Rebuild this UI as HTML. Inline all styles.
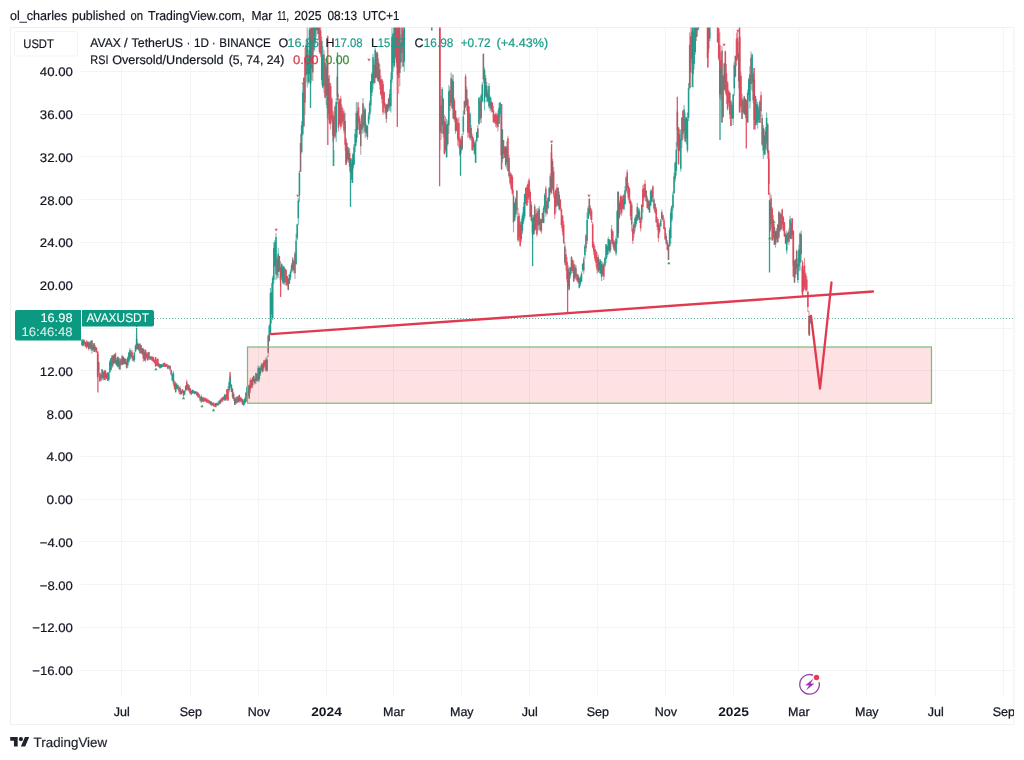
<!DOCTYPE html>
<html><head><meta charset="utf-8"><title>AVAX / TetherUS chart</title>
<style>html,body{margin:0;padding:0;background:#fff;}body{width:1024px;height:760px;overflow:hidden;font-family:"Liberation Sans",sans-serif;}svg{display:block;will-change:transform}text{text-rendering:geometricPrecision}</style>
</head><body>
<svg width="1024" height="760" viewBox="0 0 1024 760" font-family="Liberation Sans, sans-serif">
<defs><clipPath id="pane"><rect x="81" y="27.5" width="932.5" height="668.5"/></clipPath><filter id="bl" x="0" y="0" width="1024" height="760" filterUnits="userSpaceOnUse"><feGaussianBlur stdDeviation="0.35"/></filter><clipPath id="frame"><rect x="10" y="27" width="1004" height="698"/></clipPath></defs>
<rect width="1024" height="760" fill="#fff"/>
<rect x="10.5" y="27.5" width="1003.5" height="697" fill="none" stroke="#f0f0f3" stroke-width="1"/>
<path d="M121.5 28V696 M190.5 28V696 M258.5 28V696 M326.5 28V696 M393.5 28V696 M461.5 28V696 M529.5 28V696 M597.5 28V696 M665.5 28V696 M733.5 28V696 M798.5 28V696 M866.5 28V696 M935.5 28V696 M1003.5 28V696 M81 71.5H1013 M81 114.5H1013 M81 156.5H1013 M81 199.5H1013 M81 242.5H1013 M81 285.5H1013 M81 328.5H1013 M81 370.5H1013 M81 413.5H1013 M81 456.5H1013 M81 499.5H1013 M81 541.5H1013 M81 584.5H1013 M81 627.5H1013 M81 670.5H1013" stroke="#f3f4f6" stroke-width="1" fill="none"/>
<g clip-path="url(#pane)" fill="none" filter="url(#bl)">
<path d="M82.00 339.0V346.0 M83.11 338.7V346.2 M87.57 340.8V347.6 M90.92 340.3V350.8 M93.15 343.4V350.4 M102.07 369.1V380.6 M105.41 369.7V380.4 M107.64 372.1V381.1 M108.76 372.0V381.6 M109.87 360.0V373.0 M110.99 357.9V370.2 M116.56 357.8V365.5 M118.79 357.3V369.0 M123.25 355.9V364.4 M127.71 356.4V368.0 M128.83 352.4V363.0 M129.94 348.0V360.0 M134.40 351.5V362.3 M135.52 344.6V352.2 M138.86 342.7V351.2 M150.01 356.2V360.1 M160.05 364.4V368.7 M161.17 364.1V368.0 M162.28 364.2V367.2 M168.97 365.0V368.4 M172.32 372.8V381.1 M173.43 370.9V385.9 M175.66 381.6V392.4 M176.78 383.2V389.4 M184.58 390.1V395.2 M192.39 389.7V393.9 M194.62 391.0V394.3 M195.73 391.0V394.2 M201.31 394.5V403.1 M210.23 400.8V405.1 M216.92 402.6V405.8 M219.15 400.4V404.7 M224.72 394.5V401.0 M229.18 379.6V392.6 M230.30 374.0V388.0 M231.41 383.9V391.9 M235.87 396.7V404.2 M243.68 400.0V406.3 M244.79 397.4V404.4 M247.02 385.9V401.0 M248.14 385.1V396.7 M253.71 375.5V382.5 M255.94 372.5V383.7 M258.17 365.4V382.0 M259.29 366.6V381.6 M260.40 365.9V375.9 M261.52 363.0V371.6 M267.09 355.9V372.0 M269.32 324.1V341.8 M270.44 288.0V334.0 M271.55 283.1V323.5 M272.67 276.0V320.0 M273.78 242.0V284.0 M274.90 239.9V266.8 M276.01 233.0V280.0 M278.24 248.0V278.0 M281.59 263.3V279.8 M282.70 265.0V284.0 M283.82 266.2V284.4 M289.39 274.0V283.9 M290.51 269.5V280.0 M291.62 263.1V272.7 M296.08 233.7V265.0 M297.20 223.7V240.3 M298.31 198.0V225.0 M299.43 170.5V202.0 M301.66 121.0V153.5 M302.77 85.3V135.8 M306.12 41.0V82.4 M308.35 49.8V84.2 M309.46 24.1V82.8 M313.92 9.0V51.8 M315.04 12.7V44.8 M317.27 0.2V34.3 M321.73 36.8V85.3 M322.84 45.9V88.2 M327.30 60.0V118.0 M336.22 98.0V142.0 M347.37 142.7V161.7 M352.95 152.7V170.0 M354.06 144.0V165.0 M355.18 128.9V152.2 M356.29 102.0V146.0 M361.87 113.3V133.2 M364.10 106.3V131.8 M366.33 123.6V135.9 M368.56 112.6V125.0 M369.67 100.5V119.3 M370.79 81.0V112.6 M371.90 72.3V96.1 M373.02 53.7V89.5 M375.25 47.4V83.0 M387.51 103.5V112.3 M389.74 89.1V111.1 M390.86 72.6V112.6 M391.97 27.0V83.0 M393.09 32.8V71.7 M394.20 15.0V68.0 M400.89 33.9V68.4 M404.24 10.0V71.6 M410.93 -16.0V7.8 M416.50 -17.1V6.1 M423.19 -23.0V14.6 M425.42 -16.9V9.0 M432.11 -10.0V30.5 M434.34 -18.8V5.2 M437.69 -19.9V19.2 M442.15 87.0V133.7 M446.61 119.0V158.0 M448.84 85.0V133.7 M452.18 74.3V108.9 M463.33 110.5V134.7 M470.02 112.6V140.0 M474.48 141.0V154.9 M475.60 140.0V163.0 M476.71 131.6V142.6 M478.94 96.8V125.0 M481.17 93.7V123.0 M482.29 82.3V102.5 M484.52 67.4V110.5 M486.75 82.0V102.0 M487.86 90.0V102.6 M488.98 83.0V108.4 M490.09 95.4V110.9 M499.01 103.0V123.9 M500.13 102.0V117.0 M502.36 129.1V162.6 M505.70 146.0V167.0 M514.62 202.0V221.0 M515.74 197.3V217.6 M521.31 218.6V242.0 M522.43 212.6V233.7 M523.54 202.5V224.0 M524.66 193.7V219.0 M532.46 214.7V238.0 M533.58 215.1V234.6 M539.15 206.0V229.5 M543.61 205.7V223.2 M544.73 193.0V212.7 M548.07 197.4V209.2 M549.19 187.0V202.0 M559.22 191.6V210.5 M569.26 267.0V290.5 M570.37 266.7V278.3 M574.83 264.1V278.8 M579.29 278.0V288.4 M580.41 275.6V286.2 M581.52 271.6V282.0 M582.64 263.2V271.8 M584.87 244.0V259.0 M587.10 212.6V244.0 M588.21 206.0V219.3 M599.36 259.0V273.0 M600.48 259.0V273.7 M601.59 261.0V281.0 M604.94 256.8V267.3 M606.05 244.0V263.0 M607.17 245.4V257.7 M608.28 236.8V254.7 M609.40 239.0V253.2 M616.09 235.8V255.8 M617.20 210.1V244.2 M619.43 200.6V218.9 M623.89 193.7V210.5 M625.01 186.0V204.8 M635.04 216.8V231.6 M636.16 214.6V226.3 M638.39 207.5V219.7 M641.73 204.2V222.9 M649.54 200.0V212.6 M650.65 189.5V206.0 M651.77 188.9V202.5 M660.69 218.9V226.7 M669.61 227.4V246.6 M670.72 208.4V244.0 M671.84 205.4V221.9 M672.95 191.6V210.5 M674.07 172.6V193.7 M675.18 161.6V181.9 M676.30 142.0V175.8 M679.64 129.0V151.6 M680.76 129.5V171.6 M684.10 105.0V138.0 M686.33 117.1V144.5 M687.45 112.6V152.6 M688.56 83.0V121.0 M694.14 15.0V69.7 M695.25 10.0V54.7 M697.48 3.8V36.4 M698.60 0.0V30.0 M699.71 -20.0V18.0 M703.06 -19.0V17.5 M709.75 5.0V41.0 M710.86 -9.7V13.8 M711.98 -20.0V18.0 M715.32 -18.6V4.8 M723.13 74.7V118.0 M732.05 102.9V118.9 M733.16 93.7V125.0 M734.28 62.0V95.8 M745.43 98.3V118.0 M746.54 100.0V122.0 M747.66 89.5V123.0 M748.77 77.7V100.4 M749.89 66.0V108.4 M752.12 53.7V91.6 M756.58 99.0V125.1 M757.69 102.0V128.4 M758.81 107.0V122.9 M763.27 125.0V159.0 M764.38 129.0V155.5 M766.61 112.6V150.5 M775.53 230.5V247.4 M779.99 212.2V232.1 M786.68 230.5V253.7 M790.03 215.8V239.0 M797.83 258.0V283.0 M798.95 244.7V271.5 M800.06 232.6V270.5 M810.10 315.0V324.0" stroke="#169886" stroke-width="1.1" stroke-opacity="0.6"/>
<path d="M84.23 339.6V345.2 M86.46 340.0V349.0 M89.80 341.6V348.7 M95.38 345.2V352.2 M96.49 347.0V352.6 M97.61 351.5V378.0 M99.84 372.0V381.6 M104.30 370.0V380.0 M106.53 372.5V379.0 M113.22 355.2V366.3 M115.45 352.6V364.4 M121.02 358.6V365.4 M125.48 358.5V364.8 M132.17 349.8V361.0 M137.75 343.0V350.1 M141.09 345.0V353.5 M143.32 347.8V361.7 M145.55 349.4V362.3 M146.67 352.5V358.8 M147.78 352.1V360.7 M152.24 356.1V361.1 M153.36 356.8V362.0 M154.47 359.3V363.8 M155.59 356.9V366.6 M156.71 359.0V366.1 M157.82 358.5V366.4 M164.51 362.3V366.6 M165.63 363.4V367.1 M166.74 363.7V367.0 M170.09 365.5V370.9 M174.55 380.4V389.7 M179.01 385.9V393.2 M181.24 390.4V394.8 M182.35 388.9V393.3 M186.81 379.5V390.2 M189.04 384.8V392.2 M190.16 388.0V394.5 M197.96 392.3V397.6 M199.08 393.7V397.8 M203.54 396.8V402.3 M204.65 397.6V401.6 M205.77 397.7V402.0 M206.88 398.8V402.9 M208.00 398.8V403.2 M209.11 400.2V403.8 M212.46 402.5V405.6 M213.57 402.1V406.6 M214.69 403.4V406.7 M221.38 398.0V402.5 M222.49 397.1V401.4 M223.61 396.2V400.3 M225.84 394.5V400.4 M226.95 388.9V399.5 M228.07 385.9V401.0 M233.64 392.2V400.9 M238.10 396.3V402.5 M240.33 396.7V402.2 M241.45 397.4V402.7 M250.37 378.1V393.1 M251.48 379.4V387.9 M263.75 360.1V370.9 M264.86 359.7V367.0 M279.36 255.7V271.6 M286.05 269.5V286.0 M287.16 275.8V285.9 M293.85 260.5V273.3 M305.00 47.4V114.7 M311.69 18.4V80.0 M319.50 15.0V53.7 M320.61 26.5V56.7 M325.07 57.9V97.9 M329.53 75.1V124.6 M330.65 83.0V129.5 M331.76 97.3V121.8 M332.88 110.5V142.0 M333.99 111.4V139.6 M338.45 93.7V131.6 M340.68 95.8V129.5 M341.80 104.3V127.2 M342.91 108.0V125.0 M345.14 112.6V150.5 M349.60 148.0V171.6 M350.72 158.0V173.3 M358.52 102.0V129.5 M359.64 115.7V134.8 M377.48 51.6V81.0 M379.71 64.0V89.5 M380.82 75.5V95.5 M381.94 78.8V103.5 M383.05 81.0V114.7 M384.17 91.6V108.0 M385.28 102.6V114.5 M396.43 16.9V67.2 M398.66 15.0V93.7 M402.01 10.0V62.0 M406.47 -20.0V15.0 M407.58 -16.6V10.8 M408.70 -17.7V10.4 M413.16 -19.8V0.5 M414.27 -19.8V14.9 M417.62 -11.8V10.4 M418.73 -18.7V12.3 M420.96 -18.0V14.2 M426.54 -15.1V8.8 M428.77 -15.1V16.9 M431.00 -10.6V11.0 M436.57 -13.0V9.3 M439.92 19.0V150.5 M444.38 114.7V154.7 M449.95 87.0V111.0 M454.41 98.1V121.7 M456.64 117.1V131.6 M457.76 119.0V146.0 M458.87 117.0V148.0 M459.99 138.0V156.0 M461.10 136.4V153.4 M465.56 73.7V108.0 M467.79 98.0V138.0 M468.91 106.1V136.9 M471.14 124.7V140.7 M472.25 133.7V150.5 M473.37 136.9V150.4 M492.32 102.1V112.3 M493.44 106.0V123.0 M494.55 113.9V123.8 M495.67 112.6V127.0 M496.78 113.1V128.1 M504.59 146.1V158.0 M507.93 135.8V171.6 M510.16 171.6V185.0 M511.28 173.1V189.9 M512.39 174.7V195.8 M517.97 208.0V242.0 M519.08 213.0V241.1 M520.20 221.0V247.0 M525.77 187.0V204.0 M526.89 185.0V206.0 M528.00 181.5V203.0 M529.12 178.0V200.0 M530.23 189.5V216.8 M535.81 209.6V230.1 M536.92 208.4V236.8 M541.38 219.0V233.7 M545.84 186.0V216.8 M551.42 146.0V193.7 M553.65 167.0V198.0 M554.76 191.6V219.0 M556.99 184.0V206.0 M560.34 199.3V211.3 M561.45 208.0V228.0 M562.57 214.9V235.5 M563.68 221.0V244.0 M565.91 248.8V270.8 M567.03 257.0V282.0 M572.60 259.5V273.0 M573.72 261.0V282.0 M577.06 273.3V281.5 M590.44 205.5V219.4 M591.56 208.4V223.0 M592.67 222.0V248.4 M593.79 241.5V254.9 M594.90 246.0V261.0 M596.02 250.2V266.7 M597.13 252.6V273.7 M603.82 263.0V280.0 M611.63 225.0V244.0 M612.74 231.0V246.4 M613.86 240.0V250.5 M618.32 191.6V238.0 M620.55 194.7V214.7 M621.66 195.8V215.8 M622.78 195.8V209.2 M627.24 169.5V193.7 M628.35 182.9V199.8 M629.47 187.4V204.0 M630.58 199.5V219.9 M632.81 225.0V244.0 M640.62 216.8V231.6 M642.85 185.0V212.6 M643.96 183.7V200.8 M645.08 180.0V198.0 M647.31 195.8V208.4 M652.88 185.0V202.0 M655.11 203.0V213.6 M656.23 207.0V223.0 M657.34 217.0V230.2 M658.46 219.0V242.0 M662.92 214.5V221.4 M664.03 218.0V229.5 M665.15 227.0V240.0 M667.38 240.0V250.5 M678.53 127.0V165.0 M682.99 110.1V139.5 M690.79 27.0V87.4 M693.02 15.0V87.4 M700.83 -7.4V15.3 M705.29 -13.4V15.0 M706.40 -20.0V18.0 M707.52 10.0V67.4 M714.21 -7.5V16.7 M717.55 10.0V43.0 M718.67 27.6V60.5 M719.78 32.6V98.0 M720.90 52.1V99.9 M725.36 50.5V93.7 M726.47 64.0V104.0 M727.59 81.0V110.5 M728.70 89.7V106.4 M730.93 100.0V126.0 M736.51 32.6V66.0 M737.62 30.5V60.0 M739.85 27.0V112.6 M740.97 72.6V112.6 M743.20 98.0V113.1 M754.35 68.0V129.5 M761.04 91.6V116.8 M765.50 127.0V154.7 M768.84 150.5V194.7 M771.07 194.7V228.4 M772.19 207.0V241.0 M773.30 215.0V239.8 M777.76 224.0V243.0 M781.11 213.7V230.5 M782.22 208.4V228.4 M783.34 216.0V231.6 M784.45 222.0V236.8 M787.80 232.2V243.2 M792.26 218.0V239.0 M793.37 230.5V276.8 M795.60 258.7V277.8 M802.29 260.0V295.8 M803.41 266.1V290.9 M804.52 258.0V289.5 M805.64 272.6V291.6 M806.75 275.9V291.4 M807.87 290.4V312.0 M808.98 311.0V335.8" stroke="#de4259" stroke-width="1.1" stroke-opacity="0.6"/>
<path d="M85.34 341.6V346.7 M88.69 341.6V350.5 M92.03 339.7V353.7 M94.26 343.0V352.0 M98.72 361.8V375.2 M100.95 374.0V381.0 M103.18 371.4V380.2 M112.10 355.0V368.0 M114.33 354.0V363.7 M117.68 356.7V367.5 M119.91 358.0V369.8 M122.14 354.5V365.1 M124.37 357.9V364.2 M126.60 359.0V368.7 M131.06 350.1V357.3 M133.29 355.0V361.4 M136.63 336.0V349.4 M139.98 343.0V353.7 M142.21 348.0V354.9 M144.44 349.3V361.1 M148.90 351.7V359.8 M151.13 355.9V360.1 M158.94 362.8V367.6 M163.40 362.8V367.0 M167.86 364.5V369.2 M171.20 369.7V375.9 M177.89 384.4V389.7 M180.12 385.9V394.5 M183.47 390.2V396.7 M185.70 385.2V391.7 M187.93 384.3V390.5 M191.27 390.1V395.3 M193.50 390.2V393.6 M196.85 391.3V395.6 M200.19 396.7V401.6 M202.42 397.2V401.8 M211.34 401.0V406.3 M215.80 403.1V407.4 M218.03 402.5V405.6 M220.26 398.8V404.2 M232.53 388.0V398.8 M234.76 397.0V405.1 M236.99 395.9V403.4 M239.22 394.5V403.0 M242.56 398.9V405.1 M245.91 392.4V402.2 M249.25 384.7V398.9 M252.60 377.3V388.0 M254.83 377.6V384.6 M257.06 373.8V381.4 M262.63 363.1V372.5 M265.98 357.6V371.6 M268.21 334.4V356.9 M277.13 256.3V279.0 M280.47 261.0V286.0 M284.93 268.2V285.0 M288.28 278.0V290.5 M292.74 257.0V271.6 M294.97 251.6V279.0 M300.54 133.7V172.0 M303.89 77.1V127.2 M307.23 27.0V87.4 M310.58 20.0V85.0 M312.81 15.0V81.0 M316.15 0.0V37.0 M318.38 0.0V40.0 M323.96 50.1V92.7 M326.19 59.1V104.9 M328.42 75.8V119.8 M335.11 104.8V138.3 M337.34 75.0V104.0 M339.57 98.7V125.3 M344.03 109.8V133.6 M346.26 138.0V165.0 M348.49 147.1V162.9 M351.83 159.0V183.0 M357.41 102.5V137.5 M360.75 121.0V154.7 M362.98 98.0V133.7 M365.21 108.0V138.0 M367.44 125.0V140.0 M374.13 60.0V84.6 M376.36 52.0V77.9 M378.59 58.4V82.0 M386.40 104.0V123.0 M388.63 98.0V110.5 M395.32 18.5V59.0 M397.55 15.0V75.0 M399.78 15.5V86.2 M403.12 21.8V66.8 M405.35 0.0V27.0 M409.81 -16.9V12.9 M412.04 -17.9V12.4 M415.39 -19.9V7.9 M419.85 -17.4V10.5 M422.08 -16.0V5.7 M424.31 -17.9V14.6 M427.65 -15.1V9.3 M429.88 -20.0V15.0 M433.23 -20.0V15.0 M435.46 -12.6V11.7 M438.80 -20.0V20.0 M441.03 95.6V139.9 M443.26 97.6V137.8 M445.49 116.4V152.6 M447.72 120.4V145.9 M451.07 72.6V106.0 M453.30 74.7V119.0 M455.53 110.5V133.7 M462.22 133.7V150.5 M464.45 100.8V114.4 M466.68 86.2V111.2 M477.83 125.0V138.0 M480.06 96.8V123.0 M483.40 53.7V83.0 M485.63 74.9V97.3 M491.21 98.0V112.6 M497.90 110.5V131.6 M501.24 104.0V169.5 M503.47 140.0V159.0 M506.82 140.9V168.8 M509.05 154.7V178.0 M513.51 189.5V232.6 M516.85 190.5V214.7 M531.35 201.2V221.8 M534.69 204.0V233.7 M538.04 208.1V231.0 M540.27 218.0V231.7 M542.50 212.6V223.0 M546.96 200.0V214.7 M550.30 173.5V195.3 M552.53 158.8V190.6 M555.88 188.8V212.6 M558.11 187.1V206.4 M564.80 242.0V265.0 M568.14 265.0V290.0 M571.49 256.0V273.7 M575.95 265.0V280.0 M578.18 274.3V283.4 M583.75 256.8V273.7 M585.98 234.0V251.9 M589.33 198.0V214.7 M598.25 254.8V272.6 M602.71 261.7V276.4 M610.51 240.0V252.6 M614.97 240.3V251.8 M626.12 175.7V192.5 M631.70 202.0V231.6 M633.93 221.7V237.5 M637.27 203.0V221.0 M639.50 208.4V223.0 M646.19 190.3V202.5 M648.42 199.5V210.0 M654.00 198.0V210.5 M659.57 223.0V233.7 M661.80 209.5V221.0 M666.26 233.3V244.7 M668.49 244.0V260.0 M677.41 110.0V150.5 M681.87 117.0V148.0 M685.22 112.6V142.0 M689.68 32.6V89.5 M691.91 26.0V63.6 M696.37 5.0V41.0 M701.94 -19.9V17.5 M704.17 -20.0V16.4 M708.63 7.2V52.9 M713.09 -19.3V15.7 M716.44 -20.0V18.0 M722.01 46.0V123.0 M724.24 62.7V89.8 M729.82 91.6V119.0 M735.39 55.5V77.4 M738.74 41.2V88.6 M742.08 93.7V119.0 M744.31 95.8V114.7 M751.00 51.6V89.5 M753.23 72.5V103.2 M755.46 95.8V129.5 M759.92 100.0V123.0 M762.15 114.7V146.0 M767.73 123.0V159.0 M769.96 192.6V232.0 M774.42 224.0V245.0 M776.65 227.9V242.5 M778.88 210.5V239.0 M785.57 232.5V244.1 M788.91 228.4V245.0 M791.14 218.1V239.4 M794.49 260.0V283.0 M796.72 249.5V274.7 M801.18 230.5V262.0" stroke="#86676a" stroke-width="1.1" stroke-opacity="0.6"/>
<path d="M82.00 340.3V344.9 M83.11 340.2V345.8 M87.57 342.0V347.1 M90.92 341.2V348.7 M93.15 345.1V350.1 M102.07 369.3V377.9 M105.41 370.9V377.8 M107.64 372.9V380.4 M108.76 372.5V379.8 M109.87 361.8V371.9 M110.99 358.1V369.9 M116.56 359.7V365.3 M118.79 358.4V366.5 M123.25 357.1V364.3 M127.71 357.6V365.6 M128.83 352.5V361.5 M129.94 349.9V358.9 M134.40 352.6V360.0 M135.52 345.6V351.5 M138.86 344.1V350.2 M150.01 356.7V359.5 M160.05 364.5V368.0 M161.17 364.1V367.4 M162.28 364.9V366.7 M168.97 365.7V367.8 M172.32 374.4V380.4 M173.43 373.3V383.3 M175.66 383.3V392.2 M176.78 384.6V388.8 M184.58 391.2V394.4 M192.39 389.8V393.0 M194.62 391.6V393.7 M195.73 391.6V393.6 M201.31 396.2V401.5 M210.23 401.3V404.0 M216.92 403.2V405.1 M219.15 400.7V403.7 M224.72 394.6V399.7 M229.18 382.2V389.9 M230.30 376.6V386.5 M231.41 384.9V391.8 M235.87 398.5V403.2 M243.68 401.0V405.1 M244.79 398.5V403.3 M247.02 387.3V397.9 M248.14 386.4V395.7 M253.71 375.9V381.2 M255.94 373.2V381.0 M258.17 367.8V380.2 M259.29 368.0V379.2 M260.40 368.2V373.9 M261.52 364.5V369.8 M267.09 359.6V370.6 M269.32 326.1V340.9 M270.44 293.3V333.0 M271.55 292.1V314.5 M272.67 278.1V317.9 M273.78 247.9V279.8 M274.90 242.4V266.1 M276.01 237.1V273.9 M278.24 253.8V271.9 M281.59 264.3V277.5 M282.70 266.9V281.9 M283.82 266.4V283.2 M289.39 274.5V283.8 M290.51 271.8V277.7 M291.62 265.1V271.2 M296.08 240.8V264.1 M297.20 224.6V238.3 M298.31 200.5V218.3 M299.43 172.8V194.9 M301.66 125.3V152.0 M302.77 92.5V134.1 M306.12 45.2V75.0 M308.35 57.3V81.9 M309.46 29.6V74.0 M313.92 11.4V49.9 M315.04 18.3V43.2 M317.27 4.4V30.0 M321.73 40.9V80.0 M322.84 54.8V87.6 M327.30 63.9V108.2 M336.22 101.9V132.5 M347.37 146.7V159.3 M352.95 154.2V167.4 M354.06 146.8V164.5 M355.18 134.0V146.6 M356.29 113.0V142.2 M361.87 114.9V129.8 M364.10 109.7V125.5 M366.33 125.5V133.4 M368.56 115.4V123.2 M369.67 103.2V114.8 M370.79 81.3V105.2 M371.90 74.1V92.5 M373.02 57.2V83.1 M375.25 50.0V78.0 M387.51 104.6V111.7 M389.74 94.0V106.4 M390.86 79.4V106.0 M391.97 36.8V79.5 M393.09 33.9V62.9 M394.20 15.5V65.9 M400.89 41.9V62.5 M404.24 24.9V61.8 M410.93 -15.6V6.2 M416.50 -16.9V1.6 M423.19 -21.2V7.8 M425.42 -12.6V3.6 M432.11 -4.6V24.8 M434.34 -17.3V2.3 M437.69 -11.8V15.4 M442.15 89.0V125.0 M446.61 124.7V156.9 M448.84 91.6V125.3 M452.18 79.6V108.2 M463.33 116.5V131.8 M470.02 113.7V138.2 M474.48 143.2V153.5 M475.60 142.4V162.7 M476.71 132.3V141.3 M478.94 97.9V124.0 M481.17 95.6V117.8 M482.29 84.6V101.1 M484.52 69.9V102.3 M486.75 85.7V97.4 M487.86 93.1V101.0 M488.98 85.9V106.3 M490.09 97.0V107.6 M499.01 108.1V123.8 M500.13 102.6V114.4 M502.36 129.5V158.4 M505.70 146.6V165.1 M514.62 202.9V220.4 M515.74 199.0V214.3 M521.31 221.7V239.2 M522.43 215.4V230.9 M523.54 206.9V221.5 M524.66 194.0V216.6 M532.46 218.4V233.0 M533.58 216.9V234.4 M539.15 208.7V224.6 M543.61 208.1V222.9 M544.73 195.0V209.8 M548.07 197.5V208.3 M549.19 188.0V201.2 M559.22 194.7V209.3 M569.26 272.0V289.2 M570.37 267.7V275.6 M574.83 266.5V278.2 M579.29 278.3V287.8 M580.41 276.9V284.1 M581.52 273.6V281.6 M582.64 263.8V269.9 M584.87 246.2V255.3 M587.10 220.0V240.8 M588.21 208.3V218.8 M599.36 261.8V270.2 M600.48 260.5V273.4 M601.59 264.0V276.8 M604.94 257.9V265.6 M606.05 244.2V259.1 M607.17 246.1V255.0 M608.28 239.0V250.4 M609.40 239.6V251.3 M616.09 238.6V253.6 M617.20 211.2V236.1 M619.43 203.1V217.0 M623.89 195.0V208.9 M625.01 190.4V203.9 M635.04 218.3V228.1 M636.16 215.2V223.8 M638.39 209.5V217.9 M641.73 204.8V219.6 M649.54 201.7V212.5 M650.65 191.2V205.7 M651.77 190.9V201.7 M660.69 220.8V226.1 M669.61 230.0V246.2 M670.72 212.7V238.3 M671.84 205.9V219.5 M672.95 194.4V207.5 M674.07 176.4V193.4 M675.18 162.8V178.6 M676.30 149.7V170.7 M679.64 134.2V150.4 M680.76 139.2V168.8 M684.10 109.6V131.2 M686.33 117.3V138.8 M687.45 119.1V150.5 M688.56 88.2V117.7 M694.14 26.6V63.8 M695.25 17.9V51.9 M697.48 11.9V30.2 M698.60 0.2V28.3 M699.71 -12.6V9.5 M703.06 -18.2V15.6 M709.75 11.2V38.5 M710.86 -7.3V9.7 M711.98 -11.1V14.7 M715.32 -16.3V1.0 M723.13 75.7V116.7 M732.05 105.1V118.0 M733.16 94.8V118.7 M734.28 65.1V88.2 M745.43 99.1V115.1 M746.54 103.6V117.3 M747.66 92.9V122.6 M748.77 79.3V94.9 M749.89 74.6V101.5 M752.12 54.4V83.1 M756.58 104.1V123.5 M757.69 104.7V122.1 M758.81 109.6V119.9 M763.27 128.1V150.8 M764.38 135.4V154.2 M766.61 117.7V143.6 M775.53 231.5V244.0 M779.99 213.3V230.6 M786.68 234.7V250.6 M790.03 219.4V238.4 M797.83 263.7V280.0 M798.95 249.5V266.6 M800.06 233.6V262.8 M810.10 316.2V323.2" stroke="#169886" stroke-width="1.55" stroke-opacity="0.9"/>
<path d="M84.23 340.5V344.2 M86.46 342.2V347.5 M89.80 342.8V348.3 M95.38 347.0V350.6 M96.49 348.0V352.6 M97.61 353.7V376.9 M99.84 373.0V381.5 M104.30 370.7V380.0 M106.53 374.0V378.7 M113.22 355.6V364.0 M115.45 353.6V363.2 M121.02 358.9V365.0 M125.48 359.0V363.9 M132.17 352.4V358.3 M137.75 344.1V349.1 M141.09 345.3V353.2 M143.32 349.1V358.4 M145.55 349.9V359.8 M146.67 352.8V357.4 M147.78 354.1V360.3 M152.24 357.1V360.7 M153.36 357.3V361.7 M154.47 360.1V362.7 M155.59 356.9V366.5 M156.71 360.6V365.9 M157.82 358.7V365.7 M164.51 363.3V366.4 M165.63 364.1V366.9 M166.74 364.3V366.4 M170.09 366.1V369.8 M174.55 382.4V388.7 M179.01 387.4V391.5 M181.24 391.1V393.9 M182.35 389.2V392.9 M186.81 381.7V389.7 M189.04 385.4V390.7 M190.16 388.3V393.4 M197.96 392.7V396.7 M199.08 394.2V397.7 M203.54 397.7V401.6 M204.65 398.5V401.2 M205.77 397.9V401.2 M206.88 399.5V402.3 M208.00 399.7V402.5 M209.11 400.6V403.2 M212.46 403.1V405.2 M213.57 403.1V406.3 M214.69 404.2V406.4 M221.38 398.4V401.5 M222.49 397.3V401.4 M223.61 396.7V399.7 M225.84 394.5V400.4 M226.95 389.3V398.9 M228.07 388.9V400.4 M233.64 393.7V399.1 M238.10 396.7V401.9 M240.33 397.6V401.1 M241.45 398.3V401.7 M250.37 380.3V389.6 M251.48 379.9V387.6 M263.75 361.7V368.5 M264.86 360.8V365.5 M279.36 256.1V271.4 M286.05 270.1V282.9 M287.16 276.0V285.1 M293.85 261.0V270.5 M305.00 57.7V102.8 M311.69 24.3V68.5 M319.50 22.2V52.1 M320.61 30.4V53.7 M325.07 62.9V97.7 M329.53 83.1V123.1 M330.65 86.1V124.1 M331.76 99.1V119.3 M332.88 114.8V135.4 M333.99 116.5V136.4 M338.45 102.0V127.4 M340.68 98.6V126.5 M341.80 107.2V122.9 M342.91 111.0V121.1 M345.14 120.9V144.7 M349.60 153.0V166.7 M350.72 158.0V173.1 M358.52 107.6V122.7 M359.64 118.1V133.9 M377.48 53.7V79.3 M379.71 69.3V84.4 M380.82 80.3V94.4 M381.94 79.6V99.1 M383.05 84.1V112.6 M384.17 92.1V105.9 M385.28 104.5V112.8 M396.43 25.5V62.8 M398.66 17.2V78.1 M402.01 10.7V52.9 M406.47 -14.1V12.9 M407.58 -14.2V8.7 M408.70 -13.9V5.1 M413.16 -16.0V0.1 M414.27 -15.6V11.1 M417.62 -6.7V9.4 M418.73 -12.3V9.8 M420.96 -10.4V10.2 M426.54 -13.0V7.7 M428.77 -10.3V14.5 M431.00 -8.2V10.5 M436.57 -9.9V5.3 M439.92 19.5V131.0 M444.38 120.7V153.7 M449.95 90.0V105.8 M454.41 100.4V119.6 M456.64 118.1V130.6 M457.76 122.6V139.5 M458.87 123.0V141.2 M459.99 139.6V154.7 M461.10 139.7V150.3 M465.56 76.3V106.6 M467.79 99.8V132.2 M468.91 106.6V133.2 M471.14 128.1V138.1 M472.25 136.2V150.2 M473.37 138.7V147.5 M492.32 102.7V111.8 M493.44 110.2V122.1 M494.55 114.6V121.9 M495.67 114.3V123.8 M496.78 115.3V124.8 M504.59 147.3V157.4 M507.93 138.2V171.0 M510.16 173.4V183.2 M511.28 174.8V188.6 M512.39 176.7V193.6 M517.97 216.5V240.0 M519.08 215.7V237.4 M520.20 224.5V245.5 M525.77 188.1V203.6 M526.89 187.4V205.5 M528.00 184.1V198.7 M529.12 180.0V197.1 M530.23 192.1V216.7 M535.81 214.3V229.1 M536.92 213.1V234.5 M541.38 219.1V231.2 M545.84 188.6V212.8 M551.42 152.6V193.1 M553.65 171.6V194.5 M554.76 194.6V214.6 M556.99 187.7V204.4 M560.34 199.4V208.8 M561.45 209.6V225.2 M562.57 215.7V231.4 M563.68 224.7V242.7 M565.91 254.2V265.6 M567.03 261.7V278.9 M572.60 259.8V271.1 M573.72 263.7V281.5 M577.06 274.3V280.4 M590.44 208.2V216.2 M591.56 210.7V219.9 M592.67 224.3V247.3 M593.79 244.2V251.8 M594.90 249.0V258.8 M596.02 251.4V262.7 M597.13 257.7V269.5 M603.82 264.5V276.4 M611.63 229.1V241.6 M612.74 231.3V244.0 M613.86 241.7V248.8 M618.32 192.1V233.5 M620.55 196.6V209.9 M621.66 196.6V212.9 M622.78 198.8V208.6 M627.24 172.2V188.6 M628.35 186.1V197.8 M629.47 188.5V202.5 M630.58 200.8V216.0 M632.81 228.6V240.8 M640.62 218.7V228.3 M642.85 189.2V206.9 M643.96 187.9V197.4 M645.08 183.8V196.5 M647.31 198.4V208.1 M652.88 186.4V197.8 M655.11 204.1V212.8 M656.23 208.8V222.2 M657.34 219.4V227.0 M658.46 223.2V237.9 M662.92 215.3V219.7 M664.03 220.4V229.1 M665.15 227.7V239.2 M667.38 242.2V250.1 M678.53 127.4V164.1 M682.99 110.8V133.7 M690.79 36.2V72.6 M693.02 31.6V74.1 M700.83 -3.8V13.2 M705.29 -8.1V9.6 M706.40 -13.4V16.0 M707.52 18.5V58.0 M714.21 -3.5V13.1 M717.55 16.0V41.9 M718.67 28.5V58.4 M719.78 45.1V94.3 M720.90 59.7V94.2 M725.36 51.3V91.3 M726.47 73.6V95.4 M727.59 82.8V109.2 M728.70 91.6V103.3 M730.93 101.2V125.9 M736.51 38.9V61.1 M737.62 37.5V58.3 M739.85 36.8V107.8 M740.97 76.0V105.9 M743.20 100.7V112.6 M754.35 79.4V119.9 M761.04 95.3V110.9 M765.50 131.2V148.8 M768.84 158.4V183.8 M771.07 198.2V224.4 M772.19 208.4V240.2 M773.30 219.5V237.7 M777.76 224.7V242.1 M781.11 214.6V229.2 M782.22 209.5V224.5 M783.34 217.2V230.4 M784.45 222.3V236.6 M787.80 232.9V241.4 M792.26 218.4V235.1 M793.37 231.6V265.6 M795.60 259.5V274.1 M802.29 266.7V292.7 M803.41 269.7V290.8 M804.52 265.5V286.9 M805.64 274.3V289.8 M806.75 279.4V289.8 M807.87 291.7V307.0 M808.98 316.0V334.2" stroke="#de4259" stroke-width="1.55" stroke-opacity="0.9"/>
<path d="M85.34 342.1V346.4 M88.69 342.2V349.0 M92.03 340.7V350.4 M94.26 343.3V351.9 M98.72 362.2V372.0 M100.95 374.7V379.4 M103.18 372.0V378.1 M112.10 355.8V366.6 M114.33 354.5V363.1 M117.68 356.8V366.7 M119.91 360.8V369.5 M122.14 356.3V364.7 M124.37 358.0V364.0 M126.60 361.4V367.8 M131.06 351.8V357.1 M133.29 356.4V360.4 M136.63 339.0V349.3 M139.98 344.3V353.1 M142.21 348.0V353.8 M144.44 351.7V360.5 M148.90 352.1V357.9 M151.13 356.5V359.2 M158.94 363.6V367.1 M163.40 363.3V366.7 M167.86 365.4V368.7 M171.20 370.0V374.5 M177.89 385.2V388.8 M180.12 387.9V394.3 M183.47 390.7V395.5 M185.70 385.8V390.6 M187.93 384.3V389.7 M191.27 391.0V394.3 M193.50 390.6V393.3 M196.85 391.9V395.5 M200.19 396.8V400.4 M202.42 397.5V401.4 M211.34 402.0V405.1 M215.80 403.1V407.0 M218.03 402.7V405.5 M220.26 399.9V403.6 M232.53 389.3V397.3 M234.76 398.3V405.0 M236.99 397.1V402.8 M239.22 395.1V401.2 M242.56 399.0V404.6 M245.91 392.6V401.8 M249.25 384.8V398.5 M252.60 377.6V385.4 M254.83 379.1V383.3 M257.06 374.0V380.8 M262.63 364.5V371.8 M265.98 359.6V370.6 M268.21 335.5V352.7 M277.13 259.1V275.8 M280.47 266.9V280.3 M284.93 268.4V281.7 M288.28 278.5V289.8 M292.74 258.7V269.3 M294.97 253.5V273.2 M300.54 143.1V171.8 M303.89 78.0V126.2 M307.23 39.7V74.3 M310.58 28.4V83.0 M312.81 23.2V72.5 M316.15 4.8V30.5 M318.38 1.4V34.1 M323.96 54.6V86.0 M326.19 66.4V95.6 M328.42 78.5V114.0 M335.11 106.8V136.4 M337.34 77.1V96.8 M339.57 99.5V123.8 M344.03 113.3V130.6 M346.26 142.9V163.0 M348.49 149.4V160.6 M351.83 163.6V179.8 M357.41 111.1V130.3 M360.75 124.0V146.3 M362.98 103.2V127.7 M365.21 109.2V132.3 M367.44 126.2V137.3 M374.13 64.8V83.1 M376.36 52.4V77.1 M378.59 62.6V81.4 M386.40 104.8V119.0 M388.63 98.4V108.3 M395.32 25.0V57.2 M397.55 19.3V74.4 M399.78 22.4V73.0 M403.12 30.4V66.4 M405.35 2.4V24.2 M409.81 -11.2V6.7 M412.04 -15.4V8.9 M415.39 -15.5V3.5 M419.85 -15.7V10.3 M422.08 -15.6V2.0 M424.31 -14.4V12.3 M427.65 -9.6V4.0 M429.88 -14.3V12.4 M433.23 -12.2V10.2 M435.46 -9.5V8.1 M438.80 -12.3V18.6 M441.03 105.5V133.1 M443.26 98.9V134.0 M445.49 122.6V150.3 M447.72 123.9V144.0 M451.07 78.3V102.7 M453.30 81.2V118.5 M455.53 110.6V131.0 M462.22 136.0V148.8 M464.45 101.3V114.4 M466.68 89.6V105.3 M477.83 128.2V137.8 M480.06 100.7V119.4 M483.40 53.8V79.5 M485.63 78.0V96.3 M491.21 101.4V109.2 M497.90 114.6V127.0 M501.24 115.7V155.1 M503.47 140.1V154.3 M506.82 147.6V162.6 M509.05 157.9V175.9 M513.51 196.0V222.6 M516.85 190.5V210.2 M531.35 204.9V220.4 M534.69 206.2V230.7 M538.04 211.0V225.8 M540.27 219.7V229.9 M542.50 212.9V222.4 M546.96 201.0V213.5 M550.30 176.2V192.1 M552.53 161.3V188.4 M555.88 189.9V207.1 M558.11 188.1V205.9 M564.80 246.2V262.5 M568.14 268.7V286.6 M571.49 257.1V270.4 M575.95 268.2V276.7 M578.18 275.5V282.5 M583.75 259.3V270.4 M585.98 235.5V248.2 M589.33 198.9V213.3 M598.25 256.9V271.6 M602.71 264.7V274.8 M610.51 241.4V250.1 M614.97 241.7V250.8 M626.12 177.4V190.9 M631.70 204.6V224.6 M633.93 224.3V233.7 M637.27 207.1V220.4 M639.50 211.5V220.1 M646.19 190.5V201.1 M648.42 201.0V209.4 M654.00 199.4V208.4 M659.57 225.3V231.8 M661.80 212.1V218.7 M666.26 236.1V243.4 M668.49 245.5V260.0 M677.41 112.3V146.5 M681.87 117.8V140.5 M685.22 118.5V141.4 M689.68 44.7V88.1 M691.91 31.6V58.7 M696.37 5.9V37.0 M701.94 -13.8V12.5 M704.17 -13.5V7.4 M708.63 7.4V48.8 M713.09 -12.3V9.9 M716.44 -19.9V9.9 M722.01 50.5V122.4 M724.24 63.5V89.4 M729.82 93.0V114.5 M735.39 55.9V76.2 M738.74 53.0V81.2 M742.08 98.9V119.0 M744.31 96.5V114.1 M751.00 57.8V83.9 M753.23 74.3V100.3 M755.46 95.9V125.5 M759.92 101.5V122.8 M762.15 118.1V144.6 M767.73 124.6V152.7 M769.96 202.2V230.5 M774.42 226.9V244.7 M776.65 230.8V239.6 M778.88 212.2V237.2 M785.57 233.9V243.5 M788.91 231.4V241.8 M791.14 222.9V238.7 M794.49 260.8V282.4 M796.72 251.0V268.6 M801.18 234.2V254.2" stroke="#86676a" stroke-width="1.55" stroke-opacity="0.9"/>
<path d="M136.60 328.0V345.0 M310.50 40.0V108.0 M333.30 120.0V166.0 M337.50 52.6V100.0 M350.50 160.0V207.0 M352.60 160.0V183.0 M460.50 145.0V175.8 M532.60 225.0V266.0 M617.90 191.6V238.0 M720.00 68.0V140.0 M769.50 200.0V272.6 M809.50 315.8V335.8 M692.50 27.0V87.0 M333.70 150.0V166.0" stroke="#169886" stroke-width="1.3" stroke-opacity="0.9"/>
<path d="M97.90 351.5V392.4 M230.00 372.0V380.0 M280.60 270.0V297.0 M327.80 35.8V145.0 M397.30 27.0V127.0 M431.60 27.0V30.5 M439.60 27.0V186.3 M501.70 104.0V169.5 M551.60 144.0V175.0 M567.60 270.0V313.7 M677.30 96.8V130.0 M739.40 27.0V112.6 M746.30 100.0V148.4 M754.00 68.0V129.5 M768.60 150.5V194.7 M793.30 230.5V276.8 M802.70 262.0V295.8 M708.00 27.0V67.4 M345.90 140.0V165.0" stroke="#de4259" stroke-width="1.3" stroke-opacity="0.9"/>
</g>
<path d="M134.9 324.7H138.3L136.6 327.4Z" fill="#e0485c" opacity="0.9"/>
<path d="M274.5 228.7H277.9L276.2 231.4Z" fill="#e0485c" opacity="0.9"/>
<path d="M296.2 194.7H299.6L297.9 197.4Z" fill="#e0485c" opacity="0.9"/>
<path d="M549.9 140.7H553.3L551.6 143.4Z" fill="#e0485c" opacity="0.9"/>
<path d="M587.3 194.7H590.7L589.0 197.4Z" fill="#e0485c" opacity="0.9"/>
<path d="M301.3 82.7H304.7L303.0 85.4Z" fill="#e0485c" opacity="0.9"/>
<path d="M367.3 58.7H370.7L369.0 61.4Z" fill="#e0485c" opacity="0.9"/>
<path d="M722.3 43.7H725.7L724.0 46.4Z" fill="#e0485c" opacity="0.9"/>
<path d="M736.3 29.7H739.7L738.0 32.4Z" fill="#e0485c" opacity="0.9"/>
<path d="M154.2 370.2H157.6L155.9 367.5Z" fill="#3c9a4c" opacity="0.9"/>
<path d="M174.3 386.2H177.7L176.0 383.5Z" fill="#3c9a4c" opacity="0.9"/>
<path d="M181.8 399.2H185.2L183.5 396.5Z" fill="#3c9a4c" opacity="0.9"/>
<path d="M200.3 407.2H203.7L202.0 404.5Z" fill="#3c9a4c" opacity="0.9"/>
<path d="M211.8 411.2H215.2L213.5 408.5Z" fill="#3c9a4c" opacity="0.9"/>
<path d="M667.1 264.2H670.5L668.8 261.5Z" fill="#3c9a4c" opacity="0.9"/>
<path d="M772.3 223.2H775.7L774.0 220.5Z" fill="#3c9a4c" opacity="0.9"/>
<path d="M768.1 239.2H771.5L769.8 236.5Z" fill="#3c9a4c" opacity="0.9"/>
<path d="M622.3 195.7H625.7L624.0 198.4Z" fill="#e0485c" opacity="0.9"/>
<path d="M154 318.5H1013" stroke="#4fa397" stroke-opacity="0.85" stroke-width="1.1" stroke-dasharray="1.1 1.9" fill="none"/>
<rect x="247.5" y="347" width="684" height="56.2" fill="#f23645" fill-opacity="0.15" stroke="#7aba7a" stroke-width="1.2"/>
<path d="M271 334.2L873 291.5" stroke="#e13a50" stroke-width="2.3" stroke-linecap="round" fill="none"/>
<path d="M811 316L820 388.5L831.5 282.5" stroke="#e13a50" stroke-width="2.3" stroke-linecap="round" stroke-linejoin="round" fill="none"/>
<text x="10" y="20.3" font-size="13" fill="#131722" stroke="#131722" stroke-width="0.2" textLength="57.3" lengthAdjust="spacingAndGlyphs">ol_charles</text>
<text x="72" y="20.3" font-size="13" fill="#131722" stroke="#131722" stroke-width="0.2" textLength="53.3" lengthAdjust="spacingAndGlyphs">published</text>
<text x="130.5" y="20.3" font-size="13" fill="#131722" stroke="#131722" stroke-width="0.2" textLength="12.5" lengthAdjust="spacingAndGlyphs">on</text>
<text x="148.1" y="20.3" font-size="13" fill="#131722" stroke="#131722" stroke-width="0.2" textLength="96.9" lengthAdjust="spacingAndGlyphs">TradingView.com,</text>
<text x="251.4" y="20.3" font-size="13" fill="#131722" stroke="#131722" stroke-width="0.2" textLength="20.9" lengthAdjust="spacingAndGlyphs">Mar</text>
<text x="277.2" y="20.3" font-size="13" fill="#131722" stroke="#131722" stroke-width="0.2" textLength="11.8" lengthAdjust="spacingAndGlyphs">11,</text>
<text x="294.3" y="20.3" font-size="13" fill="#131722" stroke="#131722" stroke-width="0.2" textLength="27.2" lengthAdjust="spacingAndGlyphs">2025</text>
<text x="327.5" y="20.3" font-size="13" fill="#131722" stroke="#131722" stroke-width="0.2" textLength="29.7" lengthAdjust="spacingAndGlyphs">08:13</text>
<text x="362.8" y="20.3" font-size="13" fill="#131722" stroke="#131722" stroke-width="0.2" textLength="36.6" lengthAdjust="spacingAndGlyphs">UTC+1</text>
<text x="72.9" y="76.4" font-size="12.5" fill="#131722" stroke="#131722" stroke-width="0.2" text-anchor="end" textLength="33.1" lengthAdjust="spacingAndGlyphs">40.00</text>
<text x="72.9" y="119.2" font-size="12.5" fill="#131722" stroke="#131722" stroke-width="0.2" text-anchor="end" textLength="33.1" lengthAdjust="spacingAndGlyphs">36.00</text>
<text x="72.9" y="161.9" font-size="12.5" fill="#131722" stroke="#131722" stroke-width="0.2" text-anchor="end" textLength="33.1" lengthAdjust="spacingAndGlyphs">32.00</text>
<text x="72.9" y="204.7" font-size="12.5" fill="#131722" stroke="#131722" stroke-width="0.2" text-anchor="end" textLength="33.1" lengthAdjust="spacingAndGlyphs">28.00</text>
<text x="72.9" y="247.4" font-size="12.5" fill="#131722" stroke="#131722" stroke-width="0.2" text-anchor="end" textLength="33.1" lengthAdjust="spacingAndGlyphs">24.00</text>
<text x="72.9" y="290.2" font-size="12.5" fill="#131722" stroke="#131722" stroke-width="0.2" text-anchor="end" textLength="33.1" lengthAdjust="spacingAndGlyphs">20.00</text>
<text x="72.9" y="375.7" font-size="12.5" fill="#131722" stroke="#131722" stroke-width="0.2" text-anchor="end" textLength="33.1" lengthAdjust="spacingAndGlyphs">12.00</text>
<text x="72.9" y="418.5" font-size="12.5" fill="#131722" stroke="#131722" stroke-width="0.2" text-anchor="end" textLength="26.4" lengthAdjust="spacingAndGlyphs">8.00</text>
<text x="72.9" y="461.2" font-size="12.5" fill="#131722" stroke="#131722" stroke-width="0.2" text-anchor="end" textLength="26.4" lengthAdjust="spacingAndGlyphs">4.00</text>
<text x="72.9" y="504.0" font-size="12.5" fill="#131722" stroke="#131722" stroke-width="0.2" text-anchor="end" textLength="26.4" lengthAdjust="spacingAndGlyphs">0.00</text>
<text x="72.9" y="546.8" font-size="12.5" fill="#131722" stroke="#131722" stroke-width="0.2" text-anchor="end" textLength="33.1" lengthAdjust="spacingAndGlyphs">−4.00</text>
<text x="72.9" y="589.5" font-size="12.5" fill="#131722" stroke="#131722" stroke-width="0.2" text-anchor="end" textLength="33.1" lengthAdjust="spacingAndGlyphs">−8.00</text>
<text x="72.9" y="632.3" font-size="12.5" fill="#131722" stroke="#131722" stroke-width="0.2" text-anchor="end" textLength="40.7" lengthAdjust="spacingAndGlyphs">−12.00</text>
<text x="72.9" y="675.0" font-size="12.5" fill="#131722" stroke="#131722" stroke-width="0.2" text-anchor="end" textLength="40.7" lengthAdjust="spacingAndGlyphs">−16.00</text>
<rect x="14.5" y="31.5" width="63" height="24.5" rx="2" fill="#fff" stroke="#f3f3f6" stroke-width="1"/>
<text x="23.3" y="47.6" font-size="12.5" fill="#131722" stroke="#131722" stroke-width="0.2" textLength="30.5" lengthAdjust="spacingAndGlyphs">USDT</text>
<text x="90.3" y="46.8" font-size="12.5" fill="#131722" stroke="#131722" stroke-width="0.2" textLength="30.5" lengthAdjust="spacingAndGlyphs">AVAX</text>
<text x="124" y="46.8" font-size="12.5" fill="#131722" stroke="#131722" stroke-width="0.2" textLength="3.7" lengthAdjust="spacingAndGlyphs">/</text>
<text x="131.6" y="46.8" font-size="12.5" fill="#131722" stroke="#131722" stroke-width="0.2" textLength="51.5" lengthAdjust="spacingAndGlyphs">TetherUS</text>
<text x="186.8" y="46.8" font-size="12.5" fill="#131722" stroke="#131722" stroke-width="0.2" textLength="3.4" lengthAdjust="spacingAndGlyphs">·</text>
<text x="193.9" y="46.8" font-size="12.5" fill="#131722" stroke="#131722" stroke-width="0.2" textLength="15.0" lengthAdjust="spacingAndGlyphs">1D</text>
<text x="211.9" y="46.8" font-size="12.5" fill="#131722" stroke="#131722" stroke-width="0.2" textLength="3.4" lengthAdjust="spacingAndGlyphs">·</text>
<text x="219.2" y="46.8" font-size="12.5" fill="#131722" stroke="#131722" stroke-width="0.2" textLength="51.6" lengthAdjust="spacingAndGlyphs">BINANCE</text>
<text x="278.5" y="46.8" font-size="12.5" fill="#131722" stroke="#131722" stroke-width="0.2">O</text>
<text x="287.5" y="46.8" font-size="12.5" fill="#199b88" stroke="#199b88" stroke-width="0.2" textLength="31.5" lengthAdjust="spacingAndGlyphs">16.26</text>
<text x="325.5" y="46.8" font-size="12.5" fill="#131722" stroke="#131722" stroke-width="0.2">H</text>
<text x="334.2" y="46.8" font-size="12.5" fill="#199b88" stroke="#199b88" stroke-width="0.2" textLength="28.5" lengthAdjust="spacingAndGlyphs">17.08</text>
<text x="371" y="46.8" font-size="12.5" fill="#131722" stroke="#131722" stroke-width="0.2">L</text>
<text x="377.8" y="46.8" font-size="12.5" fill="#199b88" stroke="#199b88" stroke-width="0.2" textLength="28" lengthAdjust="spacingAndGlyphs">15.27</text>
<text x="414.5" y="46.8" font-size="12.5" fill="#131722" stroke="#131722" stroke-width="0.2">C</text>
<text x="423.8" y="46.8" font-size="12.5" fill="#199b88" stroke="#199b88" stroke-width="0.2" textLength="29.5" lengthAdjust="spacingAndGlyphs">16.98</text>
<text x="460.7" y="46.8" font-size="12.5" fill="#199b88" stroke="#199b88" stroke-width="0.2" textLength="30" lengthAdjust="spacingAndGlyphs">+0.72</text>
<text x="496.6" y="46.8" font-size="12.5" fill="#199b88" stroke="#199b88" stroke-width="0.2" textLength="51.5" lengthAdjust="spacingAndGlyphs">(+4.43%)</text>
<text x="90.3" y="64.0" font-size="12.5" fill="#131722" stroke="#131722" stroke-width="0.2" textLength="18.1" lengthAdjust="spacingAndGlyphs">RSI</text>
<text x="112.2" y="64.0" font-size="12.5" fill="#131722" stroke="#131722" stroke-width="0.2" textLength="111.3" lengthAdjust="spacingAndGlyphs">Oversold/Undersold</text>
<text x="228.7" y="64.0" font-size="12.5" fill="#131722" stroke="#131722" stroke-width="0.2" textLength="55.6" lengthAdjust="spacingAndGlyphs">(5, 74, 24)</text>
<text x="293" y="64.0" font-size="12.5" fill="#d8384c" stroke="#d8384c" stroke-width="0.2" textLength="25.5" lengthAdjust="spacingAndGlyphs">0.00</text>
<text x="325.4" y="64.0" font-size="12.5" fill="#3d8b37" stroke="#3d8b37" stroke-width="0.2" textLength="24" lengthAdjust="spacingAndGlyphs">0.00</text>
<path d="M17 310H81V340.5H17a2 2 0 0 1-2-2V312a2 2 0 0 1 2-2z" fill="#0b9981"/>
<path d="M82 310H152a2 2 0 0 1 2 2V324.5a2 2 0 0 1-2 2H82z" fill="#0b9981"/>
<text x="72.5" y="322.3" font-size="12.5" fill="#fff" stroke="#fff" stroke-width="0.08" text-anchor="end" textLength="32" lengthAdjust="spacingAndGlyphs">16.98</text>
<text x="72.5" y="336.3" font-size="12.5" fill="#fff" stroke="#fff" stroke-width="0.08" text-anchor="end" textLength="51" lengthAdjust="spacingAndGlyphs" fill-opacity="0.82">16:46:48</text>
<text x="86.5" y="322.3" font-size="12.5" fill="#fff" stroke="#fff" stroke-width="0.08" textLength="62.5" lengthAdjust="spacingAndGlyphs">AVAXUSDT</text>
<text x="121.8" y="716.0" font-size="12.5" fill="#131722" stroke="#131722" stroke-width="0.25" text-anchor="middle" clip-path="url(#frame)">Jul</text>
<text x="190.8" y="716.0" font-size="12.5" fill="#131722" stroke="#131722" stroke-width="0.25" text-anchor="middle" clip-path="url(#frame)">Sep</text>
<text x="258.8" y="716.0" font-size="12.5" fill="#131722" stroke="#131722" stroke-width="0.25" text-anchor="middle" clip-path="url(#frame)">Nov</text>
<text x="393.8" y="716.0" font-size="12.5" fill="#131722" stroke="#131722" stroke-width="0.25" text-anchor="middle" clip-path="url(#frame)">Mar</text>
<text x="461.8" y="716.0" font-size="12.5" fill="#131722" stroke="#131722" stroke-width="0.25" text-anchor="middle" clip-path="url(#frame)">May</text>
<text x="529.8" y="716.0" font-size="12.5" fill="#131722" stroke="#131722" stroke-width="0.25" text-anchor="middle" clip-path="url(#frame)">Jul</text>
<text x="597.8" y="716.0" font-size="12.5" fill="#131722" stroke="#131722" stroke-width="0.25" text-anchor="middle" clip-path="url(#frame)">Sep</text>
<text x="665.8" y="716.0" font-size="12.5" fill="#131722" stroke="#131722" stroke-width="0.25" text-anchor="middle" clip-path="url(#frame)">Nov</text>
<text x="798.8" y="716.0" font-size="12.5" fill="#131722" stroke="#131722" stroke-width="0.25" text-anchor="middle" clip-path="url(#frame)">Mar</text>
<text x="866.8" y="716.0" font-size="12.5" fill="#131722" stroke="#131722" stroke-width="0.25" text-anchor="middle" clip-path="url(#frame)">May</text>
<text x="935.8" y="716.0" font-size="12.5" fill="#131722" stroke="#131722" stroke-width="0.25" text-anchor="middle" clip-path="url(#frame)">Jul</text>
<text x="1003.8" y="716.0" font-size="12.5" fill="#131722" stroke="#131722" stroke-width="0.25" text-anchor="middle" clip-path="url(#frame)">Sep</text>
<text x="326.5" y="716.0" font-size="12.5" fill="#131722" text-anchor="middle" font-weight="bold" textLength="30.7" lengthAdjust="spacingAndGlyphs">2024</text>
<text x="733.5" y="716.0" font-size="12.5" fill="#131722" text-anchor="middle" font-weight="bold" textLength="30.7" lengthAdjust="spacingAndGlyphs">2025</text>
<rect x="796" y="671.5" width="30" height="24.5" fill="#fff"/>
<g fill="none" stroke="#9448a8" stroke-width="1.35" stroke-linecap="round"><path d="M812.6 675.0A9.8 9.8 0 1 0 819.2 682.6"/></g>
<path d="M812.9 679.2L805.6 685.2H809.4L806.6 689.7L814.0 683.7H810.3Z" fill="#9c2bb4" stroke="#9c2bb4" stroke-width="0.3" stroke-linejoin="round"/>
<circle cx="816.5" cy="677.5" r="2.75" fill="#ea3d4c"/>
<g transform="translate(10.2,734.8) scale(0.535)" fill="#1e222d"><path d="M14 22H7V11H0V4h14v18zM28 22h-8l7.5-18h8L28 22z"/><circle cx="20" cy="8" r="4"/></g>
<text x="33.6" y="747" font-size="13.5" fill="#1e222d" stroke="#1e222d" stroke-width="0.2" textLength="73.5" lengthAdjust="spacingAndGlyphs">TradingView</text>
</svg>
</body></html>
